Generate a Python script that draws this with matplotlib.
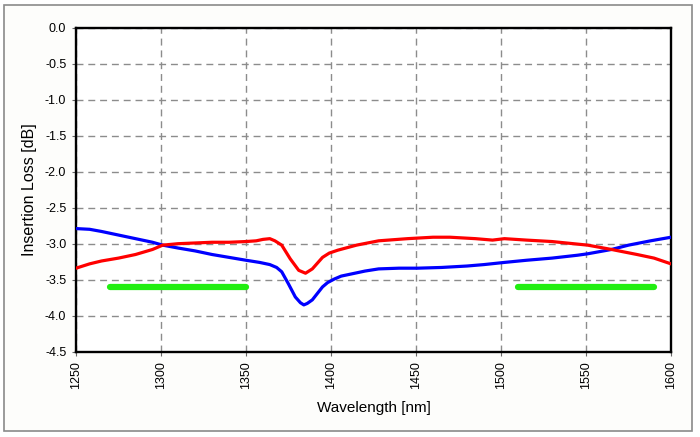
import matplotlib
matplotlib.use("Agg")
import matplotlib.pyplot as plt
from matplotlib.patches import Rectangle

# ---------------------------------------------------------------
# Data
# ---------------------------------------------------------------
blue_wl = [1250, 1258, 1265, 1275, 1285, 1295, 1301, 1310, 1320, 1330,
           1340, 1350, 1358, 1364, 1368, 1371, 1375, 1379, 1382, 1384,
           1386, 1389, 1392, 1395, 1398, 1402, 1406, 1412, 1420, 1428,
           1440, 1451, 1465, 1480, 1490, 1502, 1515, 1530, 1545, 1551,
           1565, 1575, 1588, 1600]
blue_il = [-2.79, -2.80, -2.83, -2.88, -2.93, -2.98, -3.02, -3.06, -3.10, -3.15,
           -3.19, -3.23, -3.26, -3.29, -3.33, -3.39, -3.56, -3.74, -3.82, -3.85,
           -3.83, -3.78, -3.69, -3.60, -3.54, -3.49, -3.45, -3.42, -3.38, -3.35,
           -3.34, -3.34, -3.33, -3.31, -3.29, -3.26, -3.23, -3.20, -3.16, -3.14,
           -3.08, -3.02, -2.96, -2.91]

red_wl = [1250, 1258, 1265, 1275, 1285, 1295, 1301, 1310, 1320, 1330,
          1340, 1350, 1356, 1360, 1364, 1367, 1371, 1376, 1381, 1385,
          1389, 1392, 1395, 1399, 1404, 1415, 1428, 1445, 1460, 1470,
          1485, 1495, 1502, 1515, 1530, 1551, 1565, 1580, 1590, 1600]
red_il = [-3.34, -3.28, -3.24, -3.20, -3.15, -3.08, -3.02, -3.00, -2.99, -2.98,
          -2.98, -2.97, -2.96, -2.94, -2.93, -2.96, -3.02, -3.21, -3.37, -3.41,
          -3.35, -3.27, -3.19, -3.13, -3.09, -3.02, -2.96, -2.93, -2.91, -2.91,
          -2.93, -2.95, -2.93, -2.95, -2.97, -3.02, -3.08, -3.15, -3.20, -3.28]

# operating bands (green markers)
band_lo = [1270, 1510]
band_hi = [1350, 1590]
band_level = -3.6

x_ticks = [1250, 1300, 1350, 1400, 1450, 1500, 1550, 1600]
y_ticks = [0.0, -0.5, -1.0, -1.5, -2.0, -2.5, -3.0, -3.5, -4.0, -4.5]

plt.rcParams["font.family"] = ["Liberation Sans", "DejaVu Sans"]

fig = plt.figure(figsize=(7.0, 4.37), dpi=100, facecolor="white")
fig.patches.append(Rectangle((4 / 700, 1 - 431 / 437), 688 / 700, 426 / 437,
                             transform=fig.transFigure, facecolor="#fdfdfb",
                             edgecolor="#8a8a8a", linewidth=1.2, zorder=-10))

ax = fig.add_axes([0.1086, 0.1952, 0.85, 0.7414])
ax.set_facecolor("white")

ax.plot(blue_wl, blue_il, color="#0000ff", linewidth=2.3, zorder=3)
ax.plot(red_wl, red_il, color="#ff0000", linewidth=2.3, zorder=3)
for lo, hi in zip(band_lo, band_hi):
    ax.plot([lo, hi], [band_level, band_level], color="#22ee11",
            linewidth=4.5, solid_capstyle="round", zorder=2)

ax.set_xlim(1250, 1600)
ax.set_ylim(-4.5, 0.0)
ax.set_xticks(x_ticks)
ax.set_yticks(y_ticks)
ax.set_xticklabels([str(v) for v in x_ticks], rotation=90)
ax.set_yticklabels(["%.1f" % v for v in y_ticks])
ax.tick_params(axis="both", labelsize=9, length=3, color="#666666", pad=4)

ax.grid(True, color="#8c8c8c", linestyle=(0, (5, 3.5)), linewidth=1.0)
for sp in ax.spines.values():
    sp.set_linewidth(1.7)
    sp.set_color("black")

ax.set_xlabel("Wavelength [nm]", fontsize=11, labelpad=8)
ax.set_ylabel("Insertion Loss [dB]", fontsize=11.5, labelpad=6)

fig.savefig("out.png", dpi=100, facecolor=fig.get_facecolor())
